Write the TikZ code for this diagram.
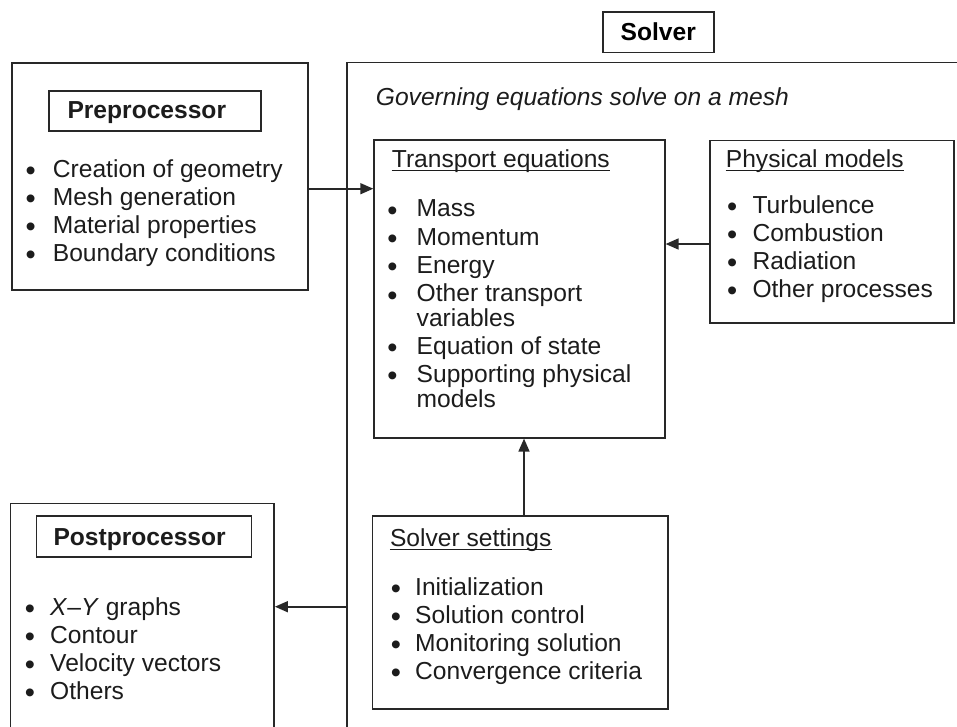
\documentclass[tikz,border=0pt]{standalone}
\usepackage{fontspec}
\setmainfont{Liberation Sans}
\usetikzlibrary{arrows.meta}
\definecolor{ink}{RGB}{28,28,28}
\definecolor{linec}{RGB}{40,40,40}
\tikzset{
  box/.style={draw=linec, line width=1.6pt, anchor=north west, inner sep=0pt},
  bul/.style={anchor=base, inner sep=0pt, text=ink, font=\fontsize{29}{28}\selectfont, text height=14pt, text depth=0pt},
  txt/.style={anchor=base west, inner sep=0pt, text=ink},
  arr/.style={draw=linec, line width=1.6pt, -{Triangle[length=13pt,width=11pt]}},
  uline/.style={draw=ink, line width=1.5pt}
}
\begin{document}
\begin{tikzpicture}[x=1pt,y=-1pt,font=\fontsize{24.6}{28}\selectfont]
\useasboundingbox (0,0) rectangle (957,726);
\clip (0,0) rectangle (957,726);

% Solver outer (open to right and bottom)
\node[box, minimum width=650pt, minimum height=720pt] (solver) at (346,61.5) {};
\node[box, minimum width=111pt, minimum height=40.7pt] (soltitle) at (602,11) {\bfseries Solver};

% Preprocessor
\node[box, minimum width=296pt, minimum height=227pt] (pre) at (11,62.3) {};
\node[box, minimum width=211.7pt, minimum height=40.4pt] (pretitle) at (48.3,90) {};
\node[txt] (pretitletext) at (67.3,118.3) {\bfseries Preprocessor};
\foreach \t/\yy [count=\i] in {Creation of geometry/177, Mesh generation/205, Material properties/233, Boundary conditions/261}{
  \node[bul] (preb\i) at (30.7,\yy+3.4) {\textbullet};
  \node[txt] (pret\i) at (52.7,\yy) {\t};
}

% Postprocessor
\node[box, minimum width=263.6pt, minimum height=260pt] (post) at (9.7,502.7) {};
\node[box, minimum width=215pt, minimum height=41pt] (posttitle) at (35.7,515) {};
\node[txt] (posttitletext) at (53.3,545) {\bfseries Postprocessor};
\foreach \t/\yy [count=\i] in {{\textit{X}–\textit{Y} graphs}/615, Contour/643, Velocity vectors/671, Others/699}{
  \node[bul] (postb\i) at (30,\yy+3.4) {\textbullet};
  \node[txt] (postt\i) at (50,\yy) {\t};
}

% Governing equations
\node[txt] (gov) at (375.7,105) {\itshape Governing equations solve on a mesh};

% Transport equations
\node[box, minimum width=290.7pt, minimum height=297.7pt] (trans) at (373.3,139.3) {};
\node[txt] (transhdr) at (391.7,167) {Transport equations};
\draw[uline] ([yshift=-3.5pt]transhdr.base west) -- ([yshift=-3.5pt]transhdr.base east);
\foreach \t/\yy [count=\i] in {Mass/216.7, Momentum/245, Energy/273.3, Other transport/301.6, Equation of state/354, Supporting physical/382.3}{
  \node[bul] (transb\i) at (392.5,\yy+3.4) {\textbullet};
  \node[txt] (transt\i) at (416.5,\yy) {\t};
}
\node[txt] (transw1) at (416.5,326) {variables};
\node[txt] (transw2) at (416.5,407.5) {models};

% Physical models
\node[box, minimum width=244pt, minimum height=182.3pt] (phys) at (709,139.7) {};
\node[txt] (physhdr) at (725.7,167) {Physical models};
\draw[uline] ([yshift=-3.5pt]physhdr.base west) -- ([yshift=-3.5pt]physhdr.base east);
\foreach \t/\yy [count=\i] in {Turbulence/213, Combustion/241, Radiation/269, Other processes/297}{
  \node[bul] (physb\i) at (732.3,\yy+3.4) {\textbullet};
  \node[txt] (physt\i) at (752.3,\yy) {\t};
}

% Solver settings
\node[box, minimum width=295.4pt, minimum height=193pt] (set) at (371.6,515.3) {};
\node[txt] (sethdr) at (389.8,546) {Solver settings};
\draw[uline] ([yshift=-3.5pt]sethdr.base west) -- ([yshift=-3.5pt]sethdr.base east);
\foreach \t/\yy [count=\i] in {Initialization/595, Solution control/623, Monitoring solution/651, Convergence criteria/679}{
  \node[bul] (setb\i) at (396,\yy+3.4) {\textbullet};
  \node[txt] (sett\i) at (415,\yy) {\t};
}

% Connectors
\coordinate (ya) at (0,188.7);
\coordinate (yb) at (0,244);
\coordinate (yc) at (0,606.7);
\coordinate (xa) at (524,0);
\draw[arr] (pre.east |- ya) -- (trans.west |- ya);
\draw[arr] (phys.west |- yb) -- (trans.east |- yb);
\draw[arr] (set.north -| xa) -- (trans.south -| xa);
\draw[arr] (solver.west |- yc) -- (post.east |- yc);
\end{tikzpicture}
\end{document}
